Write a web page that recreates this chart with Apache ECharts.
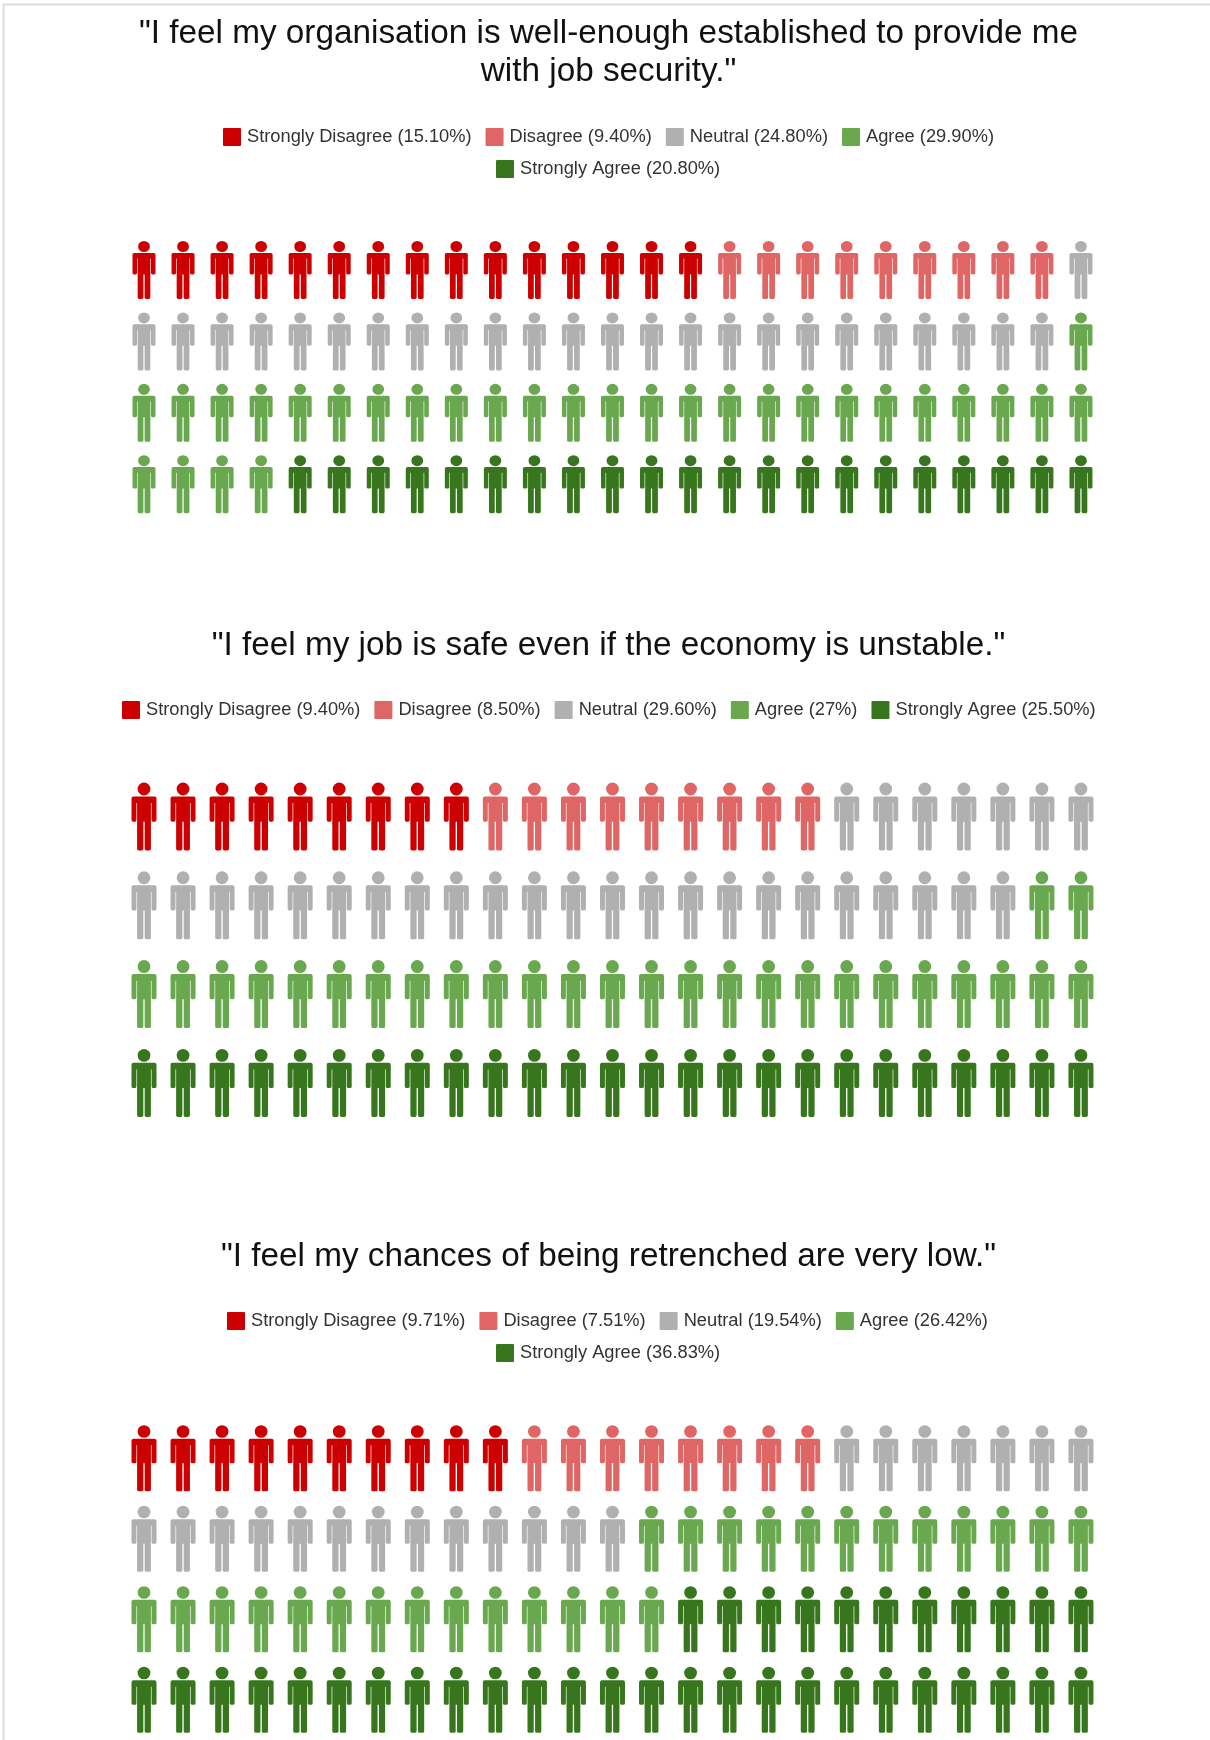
<!DOCTYPE html>
<html><head><meta charset="utf-8">
<script src="https://cdn.jsdelivr.net/npm/echarts@6/dist/echarts.min.js"></script>
<style>html,body{margin:0;padding:0;background:#fff}#c{width:1210px;height:1740px;filter:blur(0.45px)}</style>
</head><body><div id="c"></div>
<script>
const categories = ["Strongly Disagree","Disagree","Neutral","Agree","Strongly Agree"];
const colors = ["#cc0000","#e06666","#b0b0b0","#6aa84f","#38761d"];
const titles = [
  "\"I feel my organisation is well-enough established to provide me\nwith job security.\"",
  "\"I feel my job is safe even if the economy is unstable.\"",
  "\"I feel my chances of being retrenched are very low.\""
];
const pctLabels = [
  ["15.10%","9.40%","24.80%","29.90%","20.80%"],
  ["9.40%","8.50%","29.60%","27%","25.50%"],
  ["9.71%","7.51%","19.54%","26.42%","36.83%"]
];
const iconCounts = [
  [15,9,25,30,21],
  [9,9,30,27,25],
  [10,8,20,26,36]
];
const person = "path://M38 0A19.5 19.5 0 1 1 38 39A19.5 19.5 0 1 1 38 0ZM6 42H70Q76 42 76 48V113Q76 118 71 118H66Q61 118 61 113V62H59V200Q59 205 54 205H45Q40 205 40 200V118H36V200Q36 205 31 205H22Q17 205 17 200V62H15V113Q15 118 10 118H5Q0 118 0 113V48Q0 42 6 42Z";
const swatch = "path://M1 0H17Q18 0 18 1V17Q18 18 17 18H1Q0 18 0 17V1Q0 0 1 0Z";

const COLS = 25, ROWS = 4;
const layout = [
  {titleTop:10, legendTops:[128,160], legendLefts:[223,496], legendSplit:4, symbol:[23,58], firstRowMid:270, rowPitch:71.4},
  {titleTop:622, legendTops:[701], legendLefts:[122], legendSplit:5, symbol:[25,68], firstRowMid:816.5, rowPitch:88.8},
  {titleTop:1233, legendTops:[1312,1344], legendLefts:[227,496], legendSplit:4, symbol:[25,66], firstRowMid:1458.5, rowPitch:81}
];
const firstColX = 144, colPitch = 39.04;

const option = {animation:false, backgroundColor:"#fff", title:[], legend:[], grid:[], xAxis:[], yAxis:[], series:[],
  graphic:[{type:"rect",shape:{x:3.5,y:4.5,width:1300,height:1800},style:{fill:"none",stroke:"#dcdcdc",lineWidth:2},silent:true}]};

titles.forEach((t,p)=>{
  const L = layout[p];
  option.title.push({text:t,left:603.5,textAlign:"center",top:L.titleTop,
    textStyle:{fontFamily:"Liberation Sans",fontWeight:"normal",fontSize:33.3,lineHeight:38,color:"#111"}});
  const names = categories.map((c,i)=>c+" ("+pctLabels[p][i]+")");
  const groups = L.legendSplit===5 ? [names] : [names.slice(0,4),names.slice(4)];
  groups.forEach((g,gi)=>option.legend.push({
    data:g, left:L.legendLefts[gi], top:L.legendTops[gi], orient:"horizontal", selectedMode:false,
    itemWidth:18,itemHeight:18,itemGap:14,icon:swatch,padding:0,
    textStyle:{fontFamily:"Liberation Sans",fontSize:18.3,color:"#333",padding:[0,0,0,1]}
  }));
  const gridH = L.rowPitch*ROWS;
  option.grid.push({left:firstColX-colPitch/2,width:colPitch*COLS,top:L.firstRowMid-L.rowPitch/2,height:gridH,containLabel:false});
  option.xAxis.push({type:"value",gridIndex:p,min:-0.5,max:COLS-0.5,show:false});
  option.yAxis.push({type:"value",gridIndex:p,min:-0.5,max:ROWS-0.5,inverse:true,show:false});
  let k=0;
  iconCounts[p].forEach((n,ci)=>{
    const d=[];
    for(let j=0;j<n;j++,k++) d.push([k%COLS,Math.floor(k/COLS)]);
    option.series.push({type:"scatter",name:names[ci],xAxisIndex:p,yAxisIndex:p,data:d,
      symbol:person,symbolSize:L.symbol,symbolKeepAspect:false,itemStyle:{color:colors[ci],opacity:1},silent:true});
  });
});
echarts.init(document.getElementById("c"),null,{renderer:"canvas"}).setOption(option);
</script></body></html>
